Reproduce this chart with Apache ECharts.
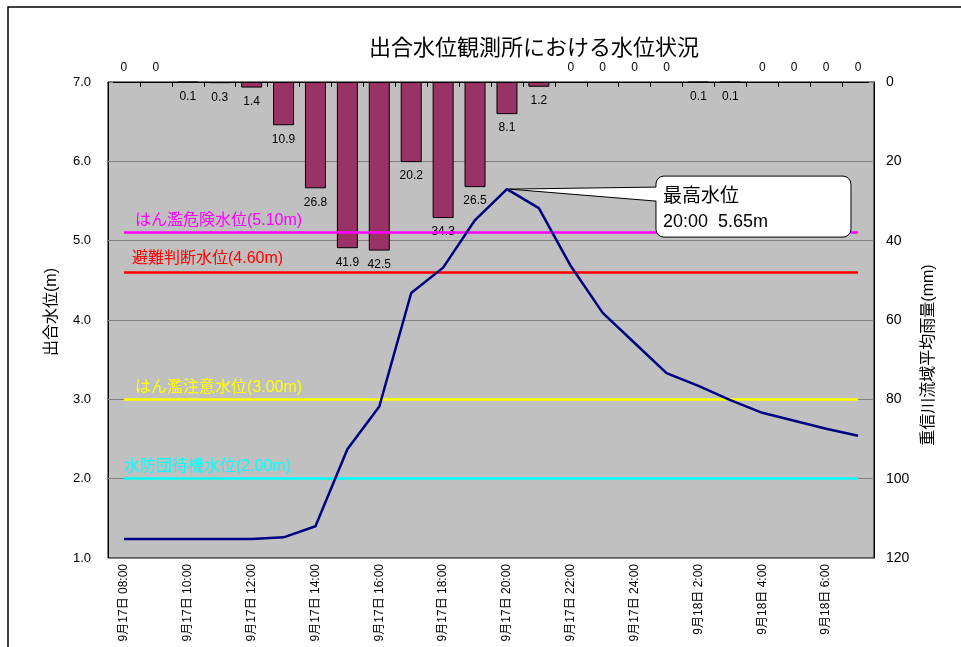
<!DOCTYPE html>
<html>
<head>
<meta charset="utf-8">
<script src="https://cdn.jsdelivr.net/npm/echarts@6/dist/echarts.min.js"></script>
<style>
html,body{margin:0;padding:0;background:#fff;}
#main{width:961px;height:647px;}
</style>
</head>
<body>
<div id="main"></div>
<script>
const FONT = "'Liberation Sans', 'Noto Sans CJK JP', sans-serif";
const TITLE = '出合水位観測所における水位状況';
const LEFT_AXIS_NAME = '出合水位(m)';
const RIGHT_AXIS_NAME = '重信川流域平均雨量(mm)';

const categories = [
  '9月17日 08:00','9月17日 09:00','9月17日 10:00','9月17日 11:00','9月17日 12:00','9月17日 13:00',
  '9月17日 14:00','9月17日 15:00','9月17日 16:00','9月17日 17:00','9月17日 18:00','9月17日 19:00',
  '9月17日 20:00','9月17日 21:00','9月17日 22:00','9月17日 23:00','9月17日 24:00','9月18日 1:00',
  '9月18日 2:00','9月18日 3:00','9月18日 4:00','9月18日 5:00','9月18日 6:00','9月18日 7:00'
];
const rainfall = [0,0,0.1,0.3,1.4,10.9,26.8,41.9,42.5,20.2,34.3,26.5,8.1,1.2,0,0,0,0,0.1,0.1,0,0,0,0];
const waterLevel = [1.24,1.24,1.24,1.24,1.24,1.26,1.40,2.37,2.91,4.34,4.66,5.26,5.65,5.41,4.68,4.09,3.71,3.33,3.17,2.99,2.83,2.73,2.63,2.54];

const thresholdValues = [5.10, 4.60, 3.00, 2.00];
const thresholdNames = ['はん濫危険水位(5.10m)','避難判断水位(4.60m)','はん濫注意水位(3.00m)','水防団待機水位(2.00m)'];
const peakTitle = '最高水位';

const thresholdColors = ['#FF00FF','#FF0000','#FFFF00','#00FFFF'];
const thresholdLabelOffsets = [[11,4],[8,6],[11,4],[0,4]];

const chart = echarts.init(document.getElementById('main'), null, {renderer:'canvas'});

const option = {
  backgroundColor: '#ffffff',
  animation: false,
  textStyle: {fontFamily: FONT},
  title: {
    text: TITLE, left: 529, top: 33, textAlign: 'center',
    textStyle: {fontSize: 22, fontWeight: 'normal', color: '#000', fontFamily: FONT}
  },
  grid: {left:108, right:87, top:82, bottom:89, show:true, backgroundColor:'#c0c0c0', borderColor:'#000', borderWidth:1},
  xAxis: {
    type:'category', data: categories, boundaryGap:true,
    axisLine:{lineStyle:{color:'#000'}},
    axisTick:{show:true, interval:0, length:5, lineStyle:{color:'#000'}},
    axisLabel:{interval:1, rotate:90, fontSize:12, color:'#000', margin:6, fontFamily: FONT}
  },
  yAxis: [
    {
      type:'value', min:1, max:7, interval:1, position:'left',
      name: LEFT_AXIS_NAME, nameLocation:'middle', nameGap:48,
      nameTextStyle:{fontSize:16, color:'#000', fontFamily: FONT, padding:[0,0,0,16]},
      axisLine:{show:true, lineStyle:{color:'#000'}},
      axisTick:{show:true, inside:true, length:5, lineStyle:{color:'#808080'}},
      axisLabel:{formatter: v => v.toFixed(1), fontSize:13, color:'#000', margin:17, fontFamily: FONT},
      splitLine:{show:true, lineStyle:{color:'#808080', width:1}}
    },
    {
      type:'value', min:0, max:120, interval:20, inverse:true, position:'right',
      name: RIGHT_AXIS_NAME, nameLocation:'middle', nameGap:47,
      nameTextStyle:{fontSize:16, color:'#000', fontFamily: FONT, padding:[0,70,0,0]},
      axisLine:{show:true, lineStyle:{color:'#000'}},
      axisTick:{show:true, inside:true, length:5, lineStyle:{color:'#808080'}},
      axisLabel:{fontSize:14, color:'#000', margin:12, fontFamily: FONT},
      splitLine:{show:false}
    }
  ],
  series: [
    {
      type:'bar', yAxisIndex:1, barWidth:21,
      data: rainfall.map(v => v === 0
        ? {value: v, itemStyle:{borderWidth:0}, label:{position:'top', distance:8}}
        : v),
      itemStyle:{color:'#993366', borderColor:'#000', borderWidth:1},
      label:{show:true, position:'bottom', distance:8, fontSize:12, color:'#000', fontFamily: FONT}
    },
    {
      type:'line', yAxisIndex:0, data: waterLevel, symbol:'none', z:5,
      lineStyle:{color:'#000080', width:2.5},
      markLine:{
        silent:true, symbol:['none','none'], animation:false,
        data: thresholdValues.map((v, i) => [
          {
            coord:[categories[0], v],
            lineStyle:{color: thresholdColors[i], width:2.5, type:'solid'},
            label:{show:true, position:'insideStartTop', formatter: thresholdNames[i],
                   color: thresholdColors[i], fontSize:16, fontFamily: FONT, distance: thresholdLabelOffsets[i]}
          },
          {coord:[categories[categories.length-1], v]}
        ])
      }
    }
  ]
};
chart.setOption(option);

const peakIdx = waterLevel.indexOf(Math.max(...waterLevel));
const p = chart.convertToPixel({seriesIndex:1}, [peakIdx, waterLevel[peakIdx]]);
const bx = p[0] + 149, by = p[1] - 13, bw = 195, bh = 61;
const peakTime = categories[peakIdx].split(' ')[1];
chart.setOption({
  graphic: [
    {type:'rect', shape:{x:8, y:7, width:1000, height:700}, style:{fill:'none', stroke:'#000', lineWidth:1.5}, z:90, silent:true},
    {type:'rect', shape:{x:bx, y:by, width:bw, height:bh, r:8}, style:{fill:'#fff', stroke:'#000', lineWidth:1}, z:100},
    {type:'polygon', shape:{points:[[p[0]+2,p[1]],[bx+2,by+11],[bx+2,by+25]]}, style:{fill:'#fff'}, z:101},
    {type:'polyline', shape:{points:[[bx,by+11],[p[0]+2,p[1]],[bx,by+25]]}, style:{stroke:'#000', fill:null, lineWidth:1}, z:102},
    {type:'text', x:bx+7, y:by+21, style:{text: peakTitle, fontSize:19, fontFamily: FONT, fill:'#000', verticalAlign:'middle'}, z:103},
    {type:'text', x:bx+7, y:by+46, style:{text: peakTime + '  ' + waterLevel[peakIdx].toFixed(2) + 'm', fontSize:18, fontFamily: FONT, fill:'#000', verticalAlign:'middle'}, z:103}
  ]
});
</script>
</body>
</html>
